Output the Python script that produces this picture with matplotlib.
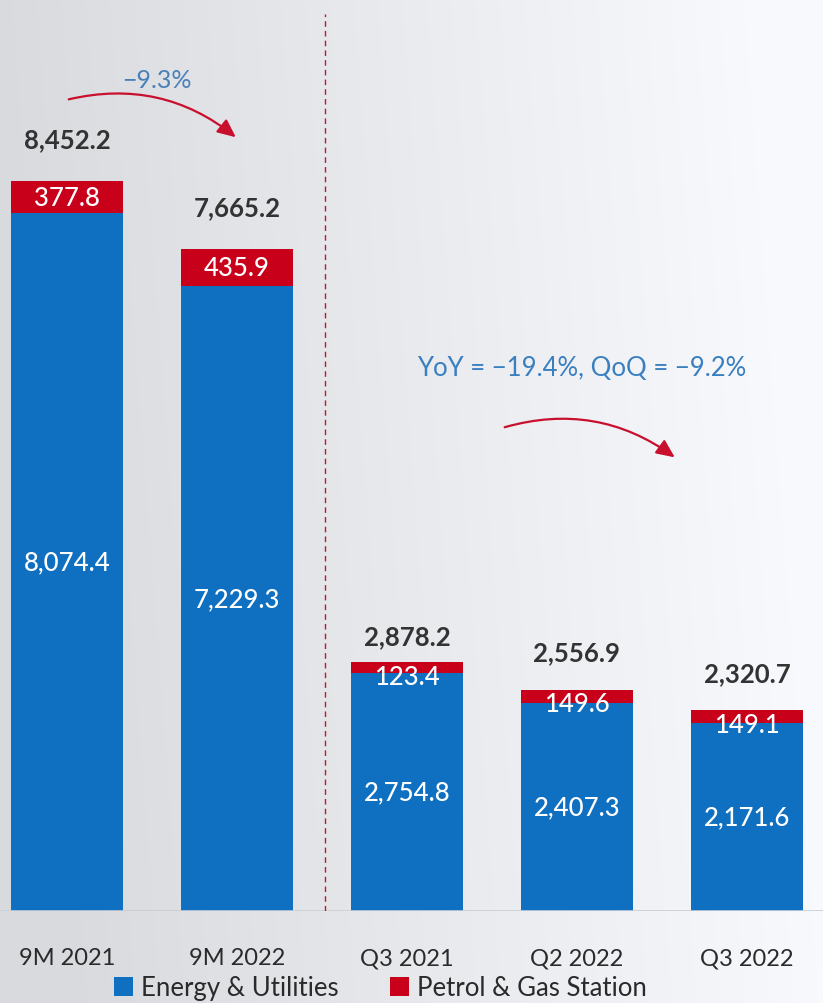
import numpy as np
import matplotlib.pyplot as plt

plt.rcParams['font.family'] = ['Lato', 'DejaVu Sans']

categories = ['9M 2021', '9M 2022', 'Q3 2021', 'Q2 2022', 'Q3 2022']
energy = [8074.4, 7229.3, 2754.8, 2407.3, 2171.6]
petrol = [377.8, 435.9, 123.4, 149.6, 149.1]
totals = [8452.2, 7665.2, 2878.2, 2556.9, 2320.7]
total_pad = [30, 30, 19, 27, 27]  # points above bar top

blue = '#0f6fc0'
red = '#c8001a'
W, H = 823, 1004

def px(x, y):
    return (x / W, 1 - y / H)

fig = plt.figure(figsize=(W / 100, H / 100), dpi=100)

# background gradient
bg = fig.add_axes([0, 0, 1, 1])
gx = np.linspace(0, 1, 300)
gy = np.linspace(0, 1, 300)
X, Y = np.meshgrid(gx, gy)
g = 0.855 + 0.12 * np.clip(X * 1.1 - 0.1 * Y, 0, 1)
rgb = np.dstack([g - 0.004, g + 0.002, g + 0.014])
bg.imshow(np.clip(rgb, 0, 1), aspect='auto', extent=[0, 1, 0, 1])
bg.axis('off')

base_px = 912
ax = fig.add_axes([0, (H - base_px) / H, 1, base_px / H])
ax.patch.set_alpha(0)
scale = 0.0864
ax.set_ylim(0, base_px / scale)
ax.set_xlim(-67 / 170, (W - 67) / 170)

x = np.arange(len(categories))
ax.bar(x, energy, width=0.655, color=blue, label='Energy & Utilities')
ax.bar(x, petrol, width=0.655, bottom=energy, color=red, label='Petrol & Gas Station')

for i in range(len(categories)):
    e, p, t = energy[i], petrol[i], totals[i]
    ax.text(x[i], e / 2, f'{e:,.1f}', ha='center', va='center', color='white',
            fontsize=18.5, fontweight='medium')
    ax.text(x[i], min(e + p / 2, e + p - 160), f'{p:,.1f}', ha='center', va='center',
            color='white', fontsize=18.5, fontweight='medium')
    ax.annotate(f'{t:,.1f}', (x[i], e + p), xytext=(0, total_pad[i]),
                textcoords='offset points', ha='center', va='center',
                color='#333333', fontsize=18.5, fontweight='bold')

ax.axhline(0, color='#c9cdd2', lw=1.2)
ax.plot([1.52, 1.52], [0, 10380], color='#d0102a', lw=1, ls=(0, (4, 3)))

for s in ax.spines.values():
    s.set_visible(False)
ax.set_yticks([])
ax.set_xticks(x)
ax.set_xticklabels(categories, fontsize=17, color='#2a2a2a')
ax.tick_params(axis='x', length=0, pad=26)

# arrows and growth notes
fig.text(*px(157, 80), '−9.3%', ha='center', va='center', color='#4a80b8', fontsize=18)
fig.add_artist(plt.matplotlib.patches.FancyArrowPatch(
    px(66, 101), px(238, 140), transform=fig.transFigure,
    connectionstyle='arc3,rad=-0.25', arrowstyle='-|>,head_length=11,head_width=5',
    color='#c8102e', lw=1.6))

fig.text(*px(582, 368), 'YoY = −19.4%, QoQ = −9.2%', ha='center', va='center',
         color='#3a7fc0', fontsize=18.5)
fig.add_artist(plt.matplotlib.patches.FancyArrowPatch(
    px(502, 429), px(677, 460), transform=fig.transFigure,
    connectionstyle='arc3,rad=-0.25', arrowstyle='-|>,head_length=11,head_width=5',
    color='#c8102e', lw=1.6))

fig.legend(loc='center', bbox_to_anchor=px(380, 989), ncol=2, frameon=False,
           fontsize=18.5, handlelength=0.75, handleheight=0.75, handletextpad=0.3,
           columnspacing=2.0, labelcolor='#2a2a2a')

fig.savefig('out.png', dpi=100)
